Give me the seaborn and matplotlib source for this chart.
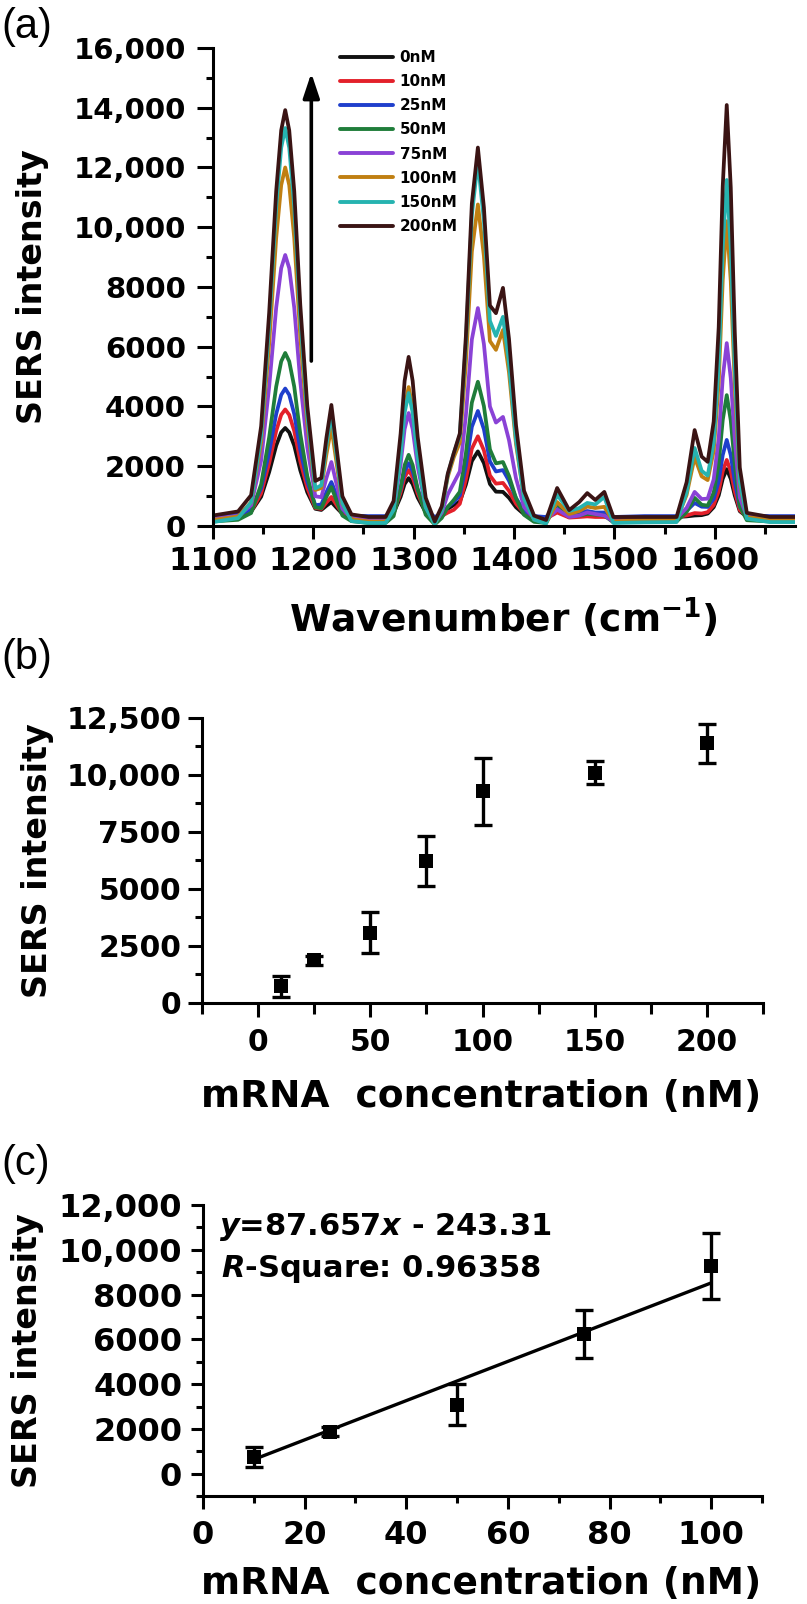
import pandas as pd
import seaborn as sns
import matplotlib.pyplot as plt
from matplotlib.ticker import MultipleLocator, FuncFormatter

# ---------------- data ----------------
# (a) SERS spectra, intensity at each wavenumber
wavenumber = [1100, 1125, 1138, 1148, 1156, 1163, 1168, 1172, 1176, 1181, 1187, 1194, 1202, 1208, 1213, 1218, 1223, 1229, 1238,
              1255, 1272, 1280, 1287, 1291, 1295, 1299, 1304, 1312, 1321, 1328,
              1334, 1340, 1346, 1352, 1358, 1364, 1370, 1376, 1382, 1389, 1395, 1402, 1410, 1420, 1432,
              1443, 1455, 1465, 1473, 1481, 1490, 1499, 1530,
              1562, 1572, 1580, 1587, 1593, 1599, 1604, 1608, 1612, 1616, 1620, 1625, 1632, 1655, 1680]

i_0nM = [330, 360, 478, 979, 1805, 2690, 3133, 3280, 3133, 2690, 1864, 1127, 575, 536, 675, 800, 616, 409, 335,
         300, 300, 430, 976, 1405, 1600, 1405, 950, 456, 180, 367,
         573, 700, 813, 1382, 2173, 2496, 2106, 1405, 1148, 1140, 942, 626, 393, 266, 250,
         550, 300, 350, 400, 350, 380, 250, 300,
         300, 320, 350, 362, 414, 628, 1023, 1580, 1900, 1580, 1020, 492, 316, 300, 300]
i_10nM = [300, 336, 480, 1092, 2100, 3180, 3720, 3900, 3720, 3180, 2172, 1272, 601, 571, 784, 970, 712, 414, 306,
          300, 300, 457, 1116, 1635, 1870, 1635, 1085, 488, 200, 332,
          447, 540, 742, 1554, 2588, 3001, 2529, 1690, 1417, 1440, 1175, 745, 427, 271, 250,
          450, 280, 300, 320, 300, 300, 250, 300,
          300, 352, 430, 416, 461, 702, 1167, 1829, 2210, 1828, 1160, 529, 319, 300, 300]
i_25nM = [330, 373, 544, 1269, 2465, 3746, 4387, 4600, 4387, 3746, 2550, 1483, 694, 720, 1128, 1470, 1043, 527, 341,
          330, 330, 507, 1250, 1835, 2100, 1835, 1215, 542, 300, 403,
          639, 800, 1023, 2011, 3319, 3849, 3237, 2157, 1824, 1870, 1513, 933, 502, 329, 300,
          700, 400, 450, 500, 450, 450, 300, 330,
          330, 506, 770, 645, 637, 906, 1500, 2374, 2880, 2370, 1478, 636, 356, 330, 330]
i_50nM = [150, 206, 432, 1391, 2970, 4662, 5508, 5790, 5508, 4662, 3083, 1673, 623, 595, 974, 1300, 861, 347, 161,
          100, 100, 328, 1286, 2038, 2380, 2038, 1240, 374, 50, 266,
          632, 870, 1143, 2412, 4129, 4827, 4010, 2561, 2096, 2140, 1677, 927, 372, 137, 100,
          750, 350, 350, 400, 380, 350, 120, 150,
          150, 466, 940, 709, 681, 1115, 2094, 3542, 4380, 3534, 2054, 658, 192, 150, 150]
i_75nM = [250, 338, 691, 2190, 4660, 7306, 8629, 9070, 8629, 7306, 4836, 2631, 992, 963, 1597, 2140, 1421, 574, 268,
          200, 200, 558, 2062, 3243, 3780, 3243, 1990, 630, 100, 446,
          1056, 1440, 1824, 3685, 6242, 7294, 6089, 3999, 3461, 3650, 2873, 1590, 633, 264, 200,
          550, 300, 350, 450, 400, 350, 150, 200,
          250, 606, 1140, 901, 914, 1558, 2937, 4955, 6120, 4946, 2892, 954, 309, 250, 250]
i_100nM = [200, 318, 790, 2796, 6100, 9640, 11410, 12000, 11410, 9640, 6336, 3386, 1204, 1270, 2381, 3310, 2145, 739, 230,
           150, 150, 600, 2490, 3975, 4650, 3975, 2400, 690, 50, 557,
           1644, 2300, 2793, 5434, 9181, 10761, 9036, 6190, 5895, 6560, 5142, 2740, 926, 221, 100,
           800, 400, 500, 650, 600, 640, 150, 200,
           200, 1040, 2300, 1660, 1535, 2515, 4805, 8221, 10200, 8200, 4700, 1400, 300, 200, 200]
i_150nM = [130, 262, 790, 3032, 6725, 10682, 12661, 13320, 12661, 10682, 6989, 3691, 1255, 1362, 2681, 3780, 2417, 763, 165,
           100, 100, 535, 2362, 3798, 4450, 3798, 2275, 622, 50, 520,
           1713, 2440, 3027, 6093, 10405, 12210, 10211, 6863, 6361, 7000, 5459, 2865, 911, 210, 80,
           1040, 500, 600, 770, 720, 970, 100, 120,
           130, 1122, 2610, 1847, 1685, 2792, 5407, 9315, 11580, 9290, 5283, 1504, 245, 130, 130]
i_200nM = [350, 486, 1029, 3335, 7135, 11206, 13242, 13920, 13242, 11206, 7406, 4014, 1507, 1606, 2938, 4050, 2667, 992, 386,
           300, 300, 836, 3087, 4856, 5660, 4856, 2980, 943, 150, 655,
           1752, 2440, 3096, 6331, 10793, 12666, 10660, 7379, 7123, 7970, 6264, 3367, 1176, 346, 200,
           1270, 530, 800, 1100, 870, 1140, 300, 300,
           300, 1464, 3210, 2322, 2146, 3495, 6652, 11361, 14090, 11332, 6506, 1955, 438, 300, 300]

conc_labels = ['0nM', '10nM', '25nM', '50nM', '75nM', '100nM', '150nM', '200nM']
conc_colors = ['#111111', '#e3202a', '#1f3fcc', '#1f7d3a', '#8a42d6', '#c07f12', '#26b3b0', '#3a1414']

# (b)/(c) calibration points
conc_nM = [10, 25, 50, 75, 100, 150, 200]
sers_mean = [730, 1880, 3090, 6230, 9290, 10100, 11380]
sers_err = [450, 200, 910, 1080, 1470, 500, 860]

# (c) linear fit shown in the panel
fit_slope = 87.657
fit_intercept = -243.31
fit_x = [10, 100]

# ---------------- style ----------------
sns.set_style('ticks')
plt.rcParams['font.family'] = ['DejaVu Sans']
plt.rcParams['font.weight'] = 'bold'
plt.rcParams['axes.labelweight'] = 'bold'
for key in ['text.color', 'axes.labelcolor', 'xtick.color', 'ytick.color', 'axes.edgecolor']:
    plt.rcParams[key] = 'black'
plt.rcParams['mathtext.fontset'] = 'custom'
plt.rcParams['mathtext.rm'] = 'DejaVu Sans:bold'
plt.rcParams['mathtext.bf'] = 'DejaVu Sans:bold'
plt.rcParams['mathtext.it'] = 'DejaVu Sans:italic:bold'
plt.rcParams['mathtext.sf'] = 'DejaVu Sans:bold'


def comma_fmt(v, pos):
    # 10,000 and up get a thousands separator, smaller numbers do not
    return f'{v:,.0f}' if abs(v) >= 10000 else f'{v:.0f}'


def style_axis(ax):
    sns.despine(ax=ax)
    for side in ['left', 'bottom']:
        ax.spines[side].set_linewidth(2.2)
        ax.spines[side].set_color('black')
    ax.tick_params(which='both', direction='out', width=2.2, color='black', labelcolor='black')
    ax.yaxis.set_major_formatter(FuncFormatter(comma_fmt))


fig = plt.figure(figsize=(8.07, 16.04), dpi=100)

# ---------------- (a) spectra ----------------
ax_a = fig.add_axes([0.2639, 0.6721, 0.7212, 0.2980])
spectra = [i_0nM, i_10nM, i_25nM, i_50nM, i_75nM, i_100nM, i_150nM, i_200nM]
df_a = pd.concat([pd.DataFrame({'wavenumber': wavenumber, 'intensity': s, 'conc': lab})
                  for lab, s in zip(conc_labels, spectra)], ignore_index=True)
sns.lineplot(data=df_a, x='wavenumber', y='intensity', hue='conc', hue_order=conc_labels,
             palette=dict(zip(conc_labels, conc_colors)), estimator=None, sort=False,
             linewidth=2.7, ax=ax_a)
ax_a.set_xlim(1100, 1680)
ax_a.set_ylim(0, 16000)
style_axis(ax_a)
ax_a.xaxis.set_major_locator(MultipleLocator(100))
ax_a.xaxis.set_minor_locator(MultipleLocator(50))
ax_a.yaxis.set_major_locator(MultipleLocator(2000))
ax_a.yaxis.set_minor_locator(MultipleLocator(1000))
ax_a.tick_params(axis='y', which='major', length=11.5, pad=8, labelsize=21)
ax_a.tick_params(axis='y', which='minor', length=5)
ax_a.tick_params(axis='x', which='major', length=9.5, pad=5, labelsize=23)
ax_a.tick_params(axis='x', which='minor', length=5.5)
ax_a.set_xlabel('Wavenumber (cm$^{-1}$)', fontsize=27)
ax_a.set_ylabel('SERS intensity', fontsize=24)
ax_a.xaxis.set_label_coords(0.5, -0.144)
ax_a.yaxis.set_label_coords(-0.282, 0.5)
sns.move_legend(ax_a, 'upper left', bbox_to_anchor=(0.205, 1.012), frameon=False, title=None,
                fontsize=11, handlelength=3.5, handletextpad=0.4, labelspacing=0.6, borderpad=0)
for h in ax_a.get_legend().get_lines():
    h.set_linewidth(2.8)
ax_a.annotate('', xy=(1198, 15160), xytext=(1198, 5520),
              arrowprops=dict(arrowstyle='-|>,head_length=0.75,head_width=0.25', lw=2.6,
                              color='black', mutation_scale=20, shrinkA=0, shrinkB=0))

# ---------------- (b) all concentrations ----------------
ax_b = fig.add_axes([0.2503, 0.3747, 0.6952, 0.1777])
ax_b.errorbar(conc_nM, sers_mean, yerr=sers_err, fmt='none', ecolor='black',
              elinewidth=2.4, capsize=6.5, capthick=2.4, clip_on=False)
sns.scatterplot(x=conc_nM, y=sers_mean, marker='s', s=95, color='black', edgecolor='black',
                linewidth=0, ax=ax_b, zorder=3, clip_on=False)
ax_b.set_xlim(-25, 225)
ax_b.set_ylim(0, 12500)
style_axis(ax_b)
ax_b.xaxis.set_major_locator(MultipleLocator(50))
ax_b.xaxis.set_minor_locator(MultipleLocator(25))
ax_b.yaxis.set_major_locator(MultipleLocator(2500))
ax_b.yaxis.set_minor_locator(MultipleLocator(1250))
ax_b.tick_params(axis='y', which='major', length=10, pad=5, labelsize=21.5)
ax_b.tick_params(axis='y', which='minor', length=5)
ax_b.tick_params(axis='x', which='major', length=10, pad=8, labelsize=21.5)
ax_b.tick_params(axis='x', which='minor', length=8)
ax_b.set_xlabel('mRNA  concentration (nM)', fontsize=27)
ax_b.set_ylabel('SERS intensity', fontsize=24)
ax_b.xaxis.set_label_coords(0.497, -0.267)
ax_b.yaxis.set_label_coords(-0.264, 0.5)

# ---------------- (c) linear range ----------------
ax_c = fig.add_axes([0.2515, 0.0673, 0.6927, 0.1814])
ax_c.errorbar(conc_nM[:5], sers_mean[:5], yerr=sers_err[:5], fmt='none', ecolor='black',
              elinewidth=2.4, capsize=6.5, capthick=2.4)
sns.scatterplot(x=conc_nM[:5], y=sers_mean[:5], marker='s', s=95, color='black', edgecolor='black',
                linewidth=0, ax=ax_c, zorder=3)
sns.lineplot(x=fit_x, y=[fit_slope * x + fit_intercept for x in fit_x], color='black',
             linewidth=2.4, ax=ax_c)
ax_c.set_xlim(0, 110)
ax_c.set_ylim(-1000, 12000)
style_axis(ax_c)
ax_c.xaxis.set_major_locator(MultipleLocator(20))
ax_c.xaxis.set_minor_locator(MultipleLocator(10))
ax_c.yaxis.set_major_locator(MultipleLocator(2000))
ax_c.yaxis.set_minor_locator(MultipleLocator(1000))
ax_c.tick_params(axis='y', which='major', length=9, pad=6, labelsize=23)
ax_c.tick_params(axis='y', which='minor', length=5)
ax_c.tick_params(axis='x', which='major', length=9, pad=8, labelsize=23)
ax_c.tick_params(axis='x', which='minor', length=5)
ax_c.set_xlabel('mRNA  concentration (nM)', fontsize=27)
ax_c.set_ylabel('SERS intensity', fontsize=24)
ax_c.xaxis.set_label_coords(0.497, -0.241)
ax_c.yaxis.set_label_coords(-0.284, 0.5)
ax_c.text(0.029, 0.924, '$y$=87.657$x$ - 243.31', transform=ax_c.transAxes,
          fontsize=22, ha='left', va='center')
ax_c.text(0.032, 0.780, '$R$-Square: 0.96358', transform=ax_c.transAxes,
          fontsize=22, ha='left', va='center')

# ---------------- panel letters ----------------
for letter, y in [('(a)', 0.983), ('(b)', 0.5898), ('(c)', 0.2743)]:
    fig.text(0.002, y, letter, fontsize=30, fontweight='normal', family='Liberation Sans',
             ha='left', va='center')

fig.savefig('out.png', dpi=100)
